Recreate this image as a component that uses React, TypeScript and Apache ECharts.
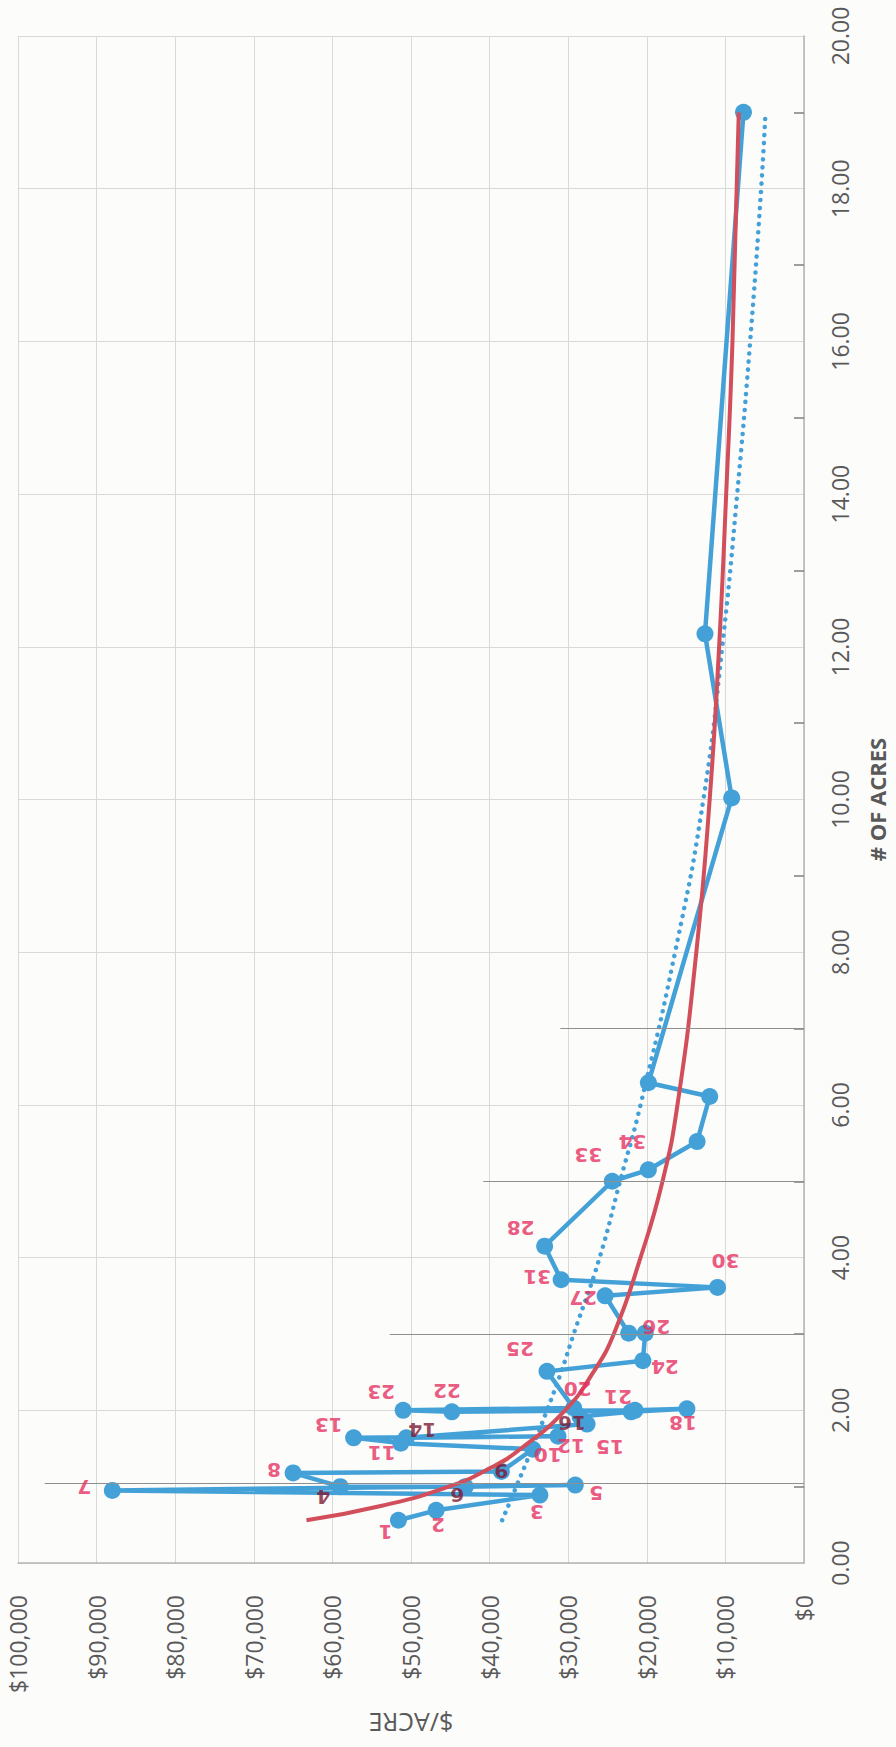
import React, { useEffect, useRef } from "react";
import * as echarts from "echarts";

// ---- data ($/acre vs # of acres, in plotting order) ----
const acres = [
  0.56, 0.69, 0.89, 0.95, 1.02, 1.0, 1.0, 1.18, 1.2, 1.49,
  1.57, 1.64, 1.66, 1.64, 1.82, 1.92, 1.98, 2.02, 2.0, 1.98,
  2.0, 2.03, 2.51, 2.65, 3.01, 3.01, 3.5, 3.61, 3.71, 4.15,
  5.0, 5.15, 5.52, 6.11, 6.29, 10.02, 12.17, 19.0,
];
const pricePerAcre = [
  51600, 46800, 33600, 88000, 29100, 43100, 59000, 65000, 38500, 34500,
  51300, 57300, 31300, 50600, 27600, 28500, 22000, 14900, 21500, 44800,
  51000, 29300, 32700, 20500, 20200, 22300, 25300, 11000, 30900, 33000,
  24400, 19800, 13600, 12000, 19800, 9200, 12600, 7700,
];
// handwritten lot numbers next to the points ("" = none)
const tags = [
  "1", "2", "3", "7", "5", "6", "4", "8", "9", "10",
  "11", "13", "12", "14", "15", "16", "21", "18", "", "22",
  "23", "20", "25", "24", "26", "", "27", "30", "31", "28",
  "33", "34", "", "", "", "", "", "",
];

// power trendline (red)
const powerTrendAcres = [0.56, 0.75, 1, 1.25, 1.5, 2, 2.5, 3, 4, 5, 6, 8, 10, 12, 14, 16, 19];
const powerTrendPrice = [63300, 53700, 45200, 39800, 36000, 30400, 26800, 24200, 20800, 18000, 16100, 13700, 12000, 10800, 9900, 9100, 8300];

// exponential trendline (blue dotted)
const expTrendAcres = [0.56, 1, 1.5, 2, 2.5, 3, 4, 5, 6, 8, 10, 12, 14, 16, 18, 19];
const expTrendPrice = [38400, 36600, 34600, 32700, 30900, 29300, 26000, 23400, 20800, 16400, 12800, 10400, 8500, 6850, 5450, 4900];

// pencil guide lines on the scan (acres level, $ where the stroke starts)
const guideAcres = [1.05, 3, 5, 7];
const guideStart = [96600, 52700, 40800, 31000];

// ---- styling ----
const BLUE = "#44a1d8";
const RED = "#d24e5b";
const TAG_RED = "#e6305f";
const TAG_DARK = "#7d1832";
const LABEL = "#595959";
const FONT = "'Open Sans', 'Noto Sans', sans-serif";

// screen offsets of the handwritten tags relative to their point
const tagOffset: Record<string, [number, number]> = {
  "1": [-13, 12], "2": [2, 15], "3": [-3, 17], "7": [-28, -3], "5": [21, 8],
  "6": [-8, 8], "4": [-17, 10], "8": [-19, -3], "9": [0, 0], "10": [15, 6],
  "11": [-19, 10], "13": [-25, -13], "12": [13, 10], "14": [16, -8], "15": [23, 23],
  "16": [-8, 7], "21": [-13, -15], "18": [-4, 14], "22": [-5, -21], "23": [-22, -18],
  "20": [4, -19], "25": [-27, -22], "24": [22, 6], "26": [11, -6], "27": [-22, 2],
  "30": [8, -26], "31": [-24, -3], "28": [-24, -18], "33": [-24, -26], "34": [-16, -28],
};
const darkTags = ["4", "6", "9", "14", "16"];

export default function App() {
  const ref = useRef<HTMLDivElement>(null);

  useEffect(() => {
    if (!ref.current) return;
    const chart = echarts.init(ref.current, null, { renderer: "svg" });

    const mainData = acres.map((a, i) => [pricePerAcre[i], a]);
    const powerData = powerTrendAcres.map((a, i) => [powerTrendPrice[i], a]);
    const expData = expTrendAcres.map((a, i) => [expTrendPrice[i], a]);
    const tagData = tags
      .map((t, i) => ({ t, i }))
      .filter((o) => o.t !== "")
      .map(({ t, i }) => {
        const off = tagOffset[t] || [0, 12];
        return {
          name: t,
          value: [pricePerAcre[i], acres[i]],
          label: {
            // label is turned 180°, so its offset is applied in the turned frame
            offset: [-off[0], -off[1]],
            color: darkTags.includes(t) ? TAG_DARK : TAG_RED,
          },
        };
      });

    const option: any = {
      animation: false,
      backgroundColor: "#fcfcfb",
      grid: { left: 18, right: 92, top: 36, bottom: 184, containLabel: false },
      xAxis: {
        type: "value",
        min: 0,
        max: 100000,
        interval: 10000,
        inverse: true,
        position: "bottom",
        name: "$/ACRE",
        nameLocation: "middle",
        nameRotate: 180,
        nameGap: 147,
        nameTextStyle: { color: LABEL, fontSize: 25, fontFamily: FONT },
        axisLine: { show: true, onZero: false, lineStyle: { color: "#b5b5b5", width: 1.5 } },
        axisTick: { show: false },
        axisLabel: {
          rotate: 90,
          margin: 32,
          color: LABEL,
          fontSize: 23,
          fontFamily: FONT,
          formatter: (v: number) => "$" + v.toLocaleString("en-US"),
        },
        splitLine: { show: true, lineStyle: { color: "#d9d9d9", width: 1 } },
      },
      yAxis: {
        type: "value",
        min: 0,
        max: 20,
        interval: 2,
        position: "right",
        name: "# OF ACRES",
        nameLocation: "middle",
        nameRotate: 90,
        nameGap: 62,
        nameTextStyle: { color: LABEL, fontSize: 22, fontWeight: "bold", fontFamily: FONT },
        axisLine: { show: true, onZero: false, lineStyle: { color: "#b5b5b5", width: 1.5 } },
        axisTick: { show: false, inside: true },
        minorTick: { show: true, splitNumber: 2, length: 10, lineStyle: { color: "#7f7f7f", width: 1.5 } },
        minorSplitLine: { show: false },
        axisLabel: {
          rotate: 90,
          margin: 24,
          color: LABEL,
          fontSize: 23,
          fontFamily: FONT,
          formatter: (v: number) => v.toFixed(2),
        },
        splitLine: { show: true, lineStyle: { color: "#d9d9d9", width: 1 } },
      },
      series: [
        {
          type: "line",
          data: [],
          silent: true,
          z: 1,
          markLine: {
            silent: true,
            symbol: "none",
            label: { show: false },
            lineStyle: { color: "#8f8f8f", width: 1.2, type: "solid" },
            data: guideAcres.map((a, i) => [{ coord: [guideStart[i], a] }, { coord: [0, a] }]),
          },
        },
        {
          type: "line",
          data: mainData,
          z: 2,
          symbol: "circle",
          symbolSize: 17,
          itemStyle: { color: BLUE },
          lineStyle: { color: BLUE, width: 4.5 },
        },
        {
          type: "line",
          data: expData,
          z: 3,
          smooth: true,
          showSymbol: false,
          symbol: "none",
          lineStyle: { color: BLUE, width: 4.5, type: [0.1, 8], cap: "round" },
        },
        {
          type: "line",
          data: powerData,
          z: 4,
          smooth: true,
          showSymbol: false,
          symbol: "none",
          lineStyle: { color: RED, width: 4 },
        },
        {
          type: "scatter",
          data: tagData,
          z: 5,
          silent: true,
          symbol: "circle",
          symbolSize: 1,
          itemStyle: { color: "rgba(0,0,0,0)" },
          label: {
            show: true,
            position: "inside",
            formatter: "{b}",
            rotate: 180,
            fontSize: 20,
            fontFamily: "'DejaVu Sans', sans-serif",
            fontWeight: "bold",
          },
        },
      ],
    };

    chart.setOption(option);
    return () => chart.dispose();
  }, []);

  return (
    <div
      ref={ref}
      style={{ position: "absolute", left: 0, top: 0, width: 896, height: 1747 }}
    />
  );
}
